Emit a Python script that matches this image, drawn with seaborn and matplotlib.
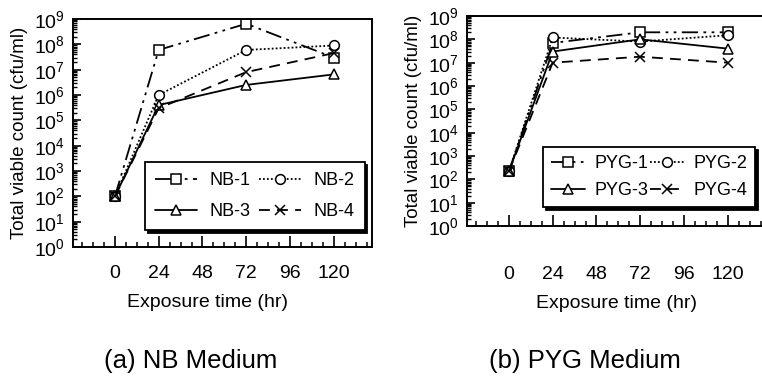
import matplotlib
matplotlib.use("Agg")
import matplotlib.pyplot as plt
import matplotlib.ticker as ticker
import numpy as np
import pandas as pd
import seaborn as sns

# ── data ──────────────────────────────────────────────────────────────────────

hours = [0, 24, 72, 120]

nb_1 = [1e2, 6e7, 6.5e8, 3e7]
nb_2 = [1e2, 1e6, 6e7, 9e7]
nb_3 = [1e2, 4e5, 2.5e6, 6.5e6]
nb_4 = [1e2, 3e5, 8e6, 4.5e7]

pyg_1 = [2.2e2, 7e7, 2e8, 2e8]
pyg_2 = [2.2e2, 1.2e8, 8e7, 1.5e8]
pyg_3 = [2.2e2, 3e7, 1e8, 4e7]
pyg_4 = [2.2e2, 1e7, 1.8e7, 1e7]

nb_labels = ["NB-1", "NB-2", "NB-3", "NB-4"]
pyg_labels = ["PYG-1", "PYG-2", "PYG-3", "PYG-4"]

x_ticks = [0, 24, 48, 72, 96, 120]

# ── style ─────────────────────────────────────────────────────────────────────

sns.set_theme(style="ticks")
plt.rcParams.update(
    {
        "font.family": ["Liberation Sans", "DejaVu Sans"],
        "mathtext.fontset": "custom",
        "mathtext.rm": "Liberation Sans",
        "mathtext.it": "Liberation Sans",
        "mathtext.default": "regular",
        "axes.linewidth": 1.4,
        "text.color": "black",
        "axes.labelcolor": "black",
        "xtick.color": "black",
        "ytick.color": "black",
    }
)

STYLES = [
    dict(marker="s", linestyle=(0, (9, 3, 1.5, 3, 1.5, 3))),
    dict(marker="o", linestyle=(0, (1, 1.2))),
    dict(marker="^", linestyle="-"),
    dict(marker="x", linestyle=(0, (6, 4))),
]


def long_frame(series, labels):
    rows = []
    for vals, lab in zip(series, labels):
        for h, v in zip(hours, vals):
            rows.append({"hour": h, "count": v, "series": lab})
    return pd.DataFrame(rows)


def draw_panel(ax, df, labels, xpad, xlabel_x, leg_kw):
    for lab, st in zip(labels, STYLES):
        sub = df[df["series"] == lab]
        sns.lineplot(
            data=sub, x="hour", y="count", ax=ax,
            color="black", linewidth=1.3,
            marker=st["marker"], linestyle=st["linestyle"],
            markersize=7,
            markerfacecolor="white", markeredgecolor="black",
            markeredgewidth=1.1, label=lab,
        )

    ax.set_yscale("log")
    ax.set_ylim(1e0, 1e9)
    ax.set_xlim(-23, 141)
    ax.set_xticks(x_ticks)
    ax.xaxis.set_minor_locator(ticker.MultipleLocator(6))
    ax.yaxis.set_major_locator(ticker.LogLocator(base=10, numticks=12))
    ax.yaxis.set_minor_locator(ticker.LogLocator(base=10, subs=np.arange(2, 10), numticks=12))
    ax.yaxis.set_minor_formatter(ticker.NullFormatter())
    ax.yaxis.set_major_formatter(ticker.LogFormatterMathtext())

    ax.tick_params(axis="x", which="major", direction="in", length=8, width=1.2,
                   pad=xpad, labelsize=14)
    ax.tick_params(axis="x", which="minor", direction="in", length=3.5, width=1.1)
    ax.tick_params(axis="y", which="major", direction="in", length=6, width=1.2,
                   pad=6, labelsize=14)
    ax.tick_params(axis="y", which="minor", direction="in", length=3, width=1.0)
    for lbl in ax.get_xticklabels():
        lbl.set_family(["Liberation Sans Narrow", "Liberation Sans"])

    ax.set_xlabel("Exposure time (hr)", fontsize=14)
    ax.xaxis.set_label_coords(xlabel_x, -0.205 if xpad < 20 else -0.33)
    ax.set_ylabel("Total viable count (cfu/ml)", fontsize=13.5)
    ax.yaxis.set_label_coords(-0.15, 0.5)
    for sp in ax.spines.values():
        sp.set_color("black")

    # row-major order in the legend: 1 2 / 3 4
    handles, labs = ax.get_legend_handles_labels()
    order = [0, 2, 1, 3]
    leg = ax.legend(
        [handles[i] for i in order], [labs[i] for i in order],
        ncol=2, fontsize=13, frameon=True, fancybox=False,
        shadow={"color": "black", "alpha": 1.0},
        edgecolor="black", framealpha=1, borderaxespad=0,
        **leg_kw,
    )
    leg.get_frame().set_linewidth(1.3)


fig = plt.figure(figsize=(7.62, 3.76), dpi=100)
ax_a = fig.add_axes([73 / 762, 1 - 247 / 376, 299 / 762, 228 / 376])
ax_b = fig.add_axes([467 / 762, 1 - 226 / 376, 299 / 762, 210 / 376])

draw_panel(ax_a, long_frame([nb_1, nb_2, nb_3, nb_4], nb_labels), nb_labels, 13, 0.45,
           dict(loc="lower right", bbox_to_anchor=(0.975, 0.075),
                handlelength=2.3, columnspacing=0.5, handletextpad=0.7,
                borderpad=0.55, labelspacing=0.75))
draw_panel(ax_b, long_frame([pyg_1, pyg_2, pyg_3, pyg_4], pyg_labels), pyg_labels, 29, 0.5,
           dict(loc="lower left", bbox_to_anchor=(0.254, 0.09),
                handlelength=1.9, columnspacing=0.1, handletextpad=0.5,
                borderpad=0.45, labelspacing=0.55))

fig.text(191 / 762, 1 - 361 / 376, "(a) NB Medium", fontsize=18.5, ha="center", va="center")
fig.text(585 / 762, 1 - 361 / 376, "(b) PYG Medium", fontsize=18.5, ha="center", va="center")

fig.savefig("out.png", dpi=100)
